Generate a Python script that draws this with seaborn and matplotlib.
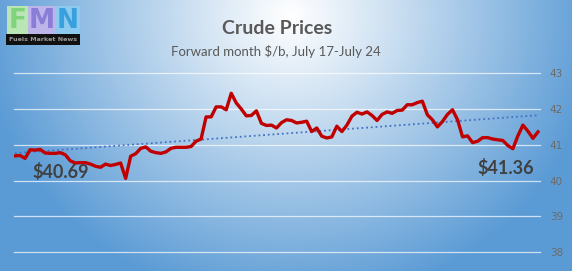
import numpy as np
import pandas as pd
import matplotlib
matplotlib.use("Agg")
import matplotlib.pyplot as plt
import seaborn as sns
from matplotlib.patches import Rectangle

# ---- data ----
prices = [40.69, 40.70, 40.62, 40.86, 40.85, 40.87, 40.77, 40.76, 40.76, 40.78,
          40.72, 40.55, 40.49, 40.50, 40.50, 40.46, 40.40, 40.37, 40.46, 40.42,
          40.45, 40.49, 40.06, 40.68, 40.75, 40.90, 40.94, 40.82, 40.78, 40.76,
          40.80, 40.90, 40.93, 40.93, 40.93, 40.95, 41.10, 41.16, 41.78, 41.78,
          42.06, 42.06, 41.98, 42.44, 42.17, 42.00, 41.81, 41.82, 41.95, 41.60,
          41.54, 41.55, 41.47, 41.62, 41.70, 41.68, 41.61, 41.63, 41.66, 41.37,
          41.47, 41.24, 41.19, 41.22, 41.52, 41.37, 41.55, 41.80, 41.91, 41.86,
          41.92, 41.82, 41.68, 41.85, 41.92, 41.88, 41.96, 41.97, 42.12, 42.12,
          42.18, 42.22, 41.84, 41.70, 41.50, 41.65, 41.85, 41.98, 41.70, 41.22,
          41.25, 41.06, 41.10, 41.20, 41.20, 41.16, 41.14, 41.12, 40.98, 40.89,
          41.25, 41.55, 41.38, 41.18, 41.36]
y_ticks = [38, 39, 40, 41, 42, 43]
title = "Crude Prices"
subtitle = "Forward month $/b, July 17-July 24"
first_label = "$40.69"
last_label = "$41.36"

df = pd.DataFrame({"t": np.arange(len(prices)), "price": prices})

W, H = 572, 271
fig = plt.figure(figsize=(W / 100, H / 100), dpi=100)

# ---- radial gradient background ----
bg = fig.add_axes([0, 0, 1, 1], zorder=0)
yy, xx = np.mgrid[0:H, 0:W]
t = np.sqrt(((xx - 290) / 310.0) ** 2 + ((yy - 15) / 290.0) ** 2)
t = np.clip(t, 0, 1) ** 1.05
white = np.array([1.0, 1.0, 1.0])
blue = np.array([0x5b, 0x9b, 0xd5]) / 255.0
img = white[None, None, :] * (1 - t[..., None]) + blue[None, None, :] * t[..., None]
bg.imshow(img, aspect="auto", extent=[0, W, H, 0])
bg.set_axis_off()

# ---- main axes ----
left, right = 14 / W, 540 / W
top, bottom = 1 - 73.3 / H, 1 - 252 / H
ax = fig.add_axes([left, bottom, right - left, top - bottom], zorder=1)
ax.patch.set_alpha(0)

sns.lineplot(data=df, x="t", y="price", ax=ax, color="#c00000", linewidth=2.4, zorder=3)
sns.regplot(data=df, x="t", y="price", ax=ax, scatter=False, ci=None, truncate=True,
            line_kws=dict(color="#4472c4", linewidth=1.3, linestyle=(0, (1, 1.6)), zorder=2))

n = len(prices)
ax.set_xlim(-0.2, n - 1 + 0.4)
ax.set_ylim(38, 43)
ax.set_yticks(y_ticks)
ax.set_yticklabels([str(v) for v in y_ticks])
ax.yaxis.tick_right()
ax.tick_params(axis="y", length=0, pad=7, labelsize=7.5, labelcolor="#6b6b6b")
ax.set_xticks([])
ax.set_xlabel("")
ax.set_ylabel("")
for s in ax.spines.values():
    s.set_visible(False)
for v in y_ticks:
    ax.axhline(v, color="white", linewidth=0.9, alpha=0.7, zorder=1, clip_on=False)

ax.text(9.1, 40.25, first_label, ha="center", va="center", fontsize=13,
        fontweight="bold", color="#404040", family="Lato")
ax.text(97.6, 40.35, last_label, ha="center", va="center", fontsize=13,
        fontweight="bold", color="#404040", family="Lato")

# ---- titles ----
fig.text(277 / W, 1 - 29 / H, title, ha="center", va="center", fontsize=14,
         fontweight="bold", color="#595959", family="Lato", zorder=5)
fig.text(276 / W, 1 - 51.5 / H, subtitle, ha="center", va="center", fontsize=9.5,
         color="#595959", family="Lato", zorder=5)

# ---- logo ----
def px_rect(x0, y0, x1, y1, color):
    fig.patches.append(Rectangle((x0 / W, 1 - y1 / H), (x1 - x0) / W, (y1 - y0) / H,
                                 transform=fig.transFigure, facecolor=color,
                                 edgecolor="none", zorder=4))

px_rect(7, 6, 28, 34, "#b9e6b4")
px_rect(28, 6, 55, 34, "#bdb4ea")
px_rect(55, 6, 80, 34, "#8ccbef")
px_rect(6, 34, 80, 45, "#111111")
for ch, cx, col in [("F", 17.5, "#7fd47b"), ("M", 41.5, "#8a7dd8"), ("N", 67.5, "#38a0dc")]:
    fig.text(cx / W, 1 - 21 / H, ch, ha="center", va="center", fontsize=19,
             fontweight="bold", color=col, family="DejaVu Sans", zorder=6)
fig.text(43 / W, 1 - 39.5 / H, "Fuels Market News", ha="center", va="center",
         fontsize=4.6, fontweight="bold", color="#9a9a9a", family="DejaVu Sans", zorder=6)

fig.savefig("out.png", dpi=100)
